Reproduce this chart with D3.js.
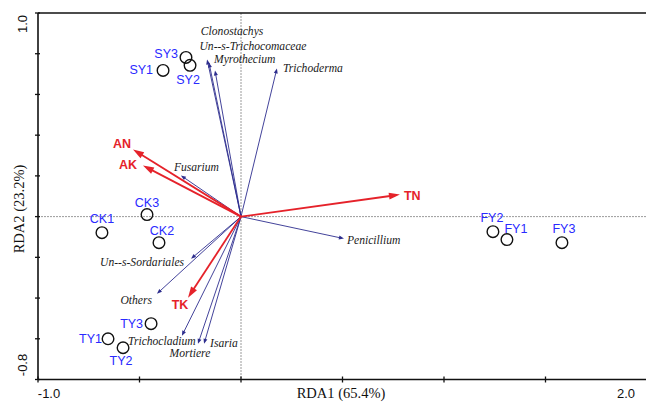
<!DOCTYPE html>
<html>
<head>
<meta charset="utf-8">
<script src="https://cdn.jsdelivr.net/npm/d3@7"></script>
<style>
  html, body { margin: 0; padding: 0; background: #fff; }
  svg { display: block; }
</style>
</head>
<body>
<svg id="chart" width="646" height="402"></svg>
<script>
// ---- Data ----
const sampleNames = ["SY1","SY2","SY3","CK1","CK2","CK3","TY1","TY2","TY3","FY1","FY2","FY3"];
const sampleX = [-0.384,-0.251,-0.271,-0.685,-0.404,-0.463,-0.655,-0.581,-0.443,1.310,1.241,1.581];
const sampleY = [0.718,0.743,0.782,-0.079,-0.128,0.010,-0.600,-0.644,-0.526,-0.113,-0.074,-0.128];

const envNames = ["AN","AK","TN","TK"];
const envX = [-0.532,-0.483,0.783,-0.261];
const envY = [0.330,0.251,0.108,-0.398];

const speciesNames = ["Clonostachys","Un--s-Trichocomaceae","Myrothecium","Trichoderma","Fusarium","Penicillium","Un--s-Sordariales","Others","Trichocladium","Mortiere","Isaria"];
const speciesX = [-0.167,-0.158,-0.128,0.177,-0.296,0.507,-0.246,-0.414,-0.291,-0.212,-0.182];
const speciesY = [0.772,0.757,0.718,0.728,0.202,-0.108,-0.207,-0.379,-0.585,-0.625,-0.625];

const xTicks = [-1.0,-0.5,0,0.5,1.0,1.5,2.0];
const yTicks = [-0.8,-0.6,-0.4,-0.2,0,0.2,0.4,0.6,0.8,1.0];
const xTickLabels = ["-1.0","2.0"];
const yTickLabels = ["1.0","-0.8"];
const xTitle = "RDA1 (65.4%)";
const yTitle = "RDA2 (23.2%)";

// ---- Layout (label offsets in px) ----
const sampleLabelLayout = {
  SY1:{a:"end",dx:-10,dy:4}, SY2:{a:"middle",dx:-2,dy:19}, SY3:{a:"end",dx:-8,dy:1},
  CK1:{a:"middle",dx:0,dy:-10}, CK2:{a:"middle",dx:3,dy:-8}, CK3:{a:"middle",dx:0,dy:-8},
  TY1:{a:"end",dx:-6,dy:4}, TY2:{a:"middle",dx:-2,dy:17}, TY3:{a:"end",dx:-8,dy:4},
  FY1:{a:"middle",dx:9,dy:-7}, FY2:{a:"middle",dx:-1,dy:-10}, FY3:{a:"middle",dx:2,dy:-10}
};
const envLabelLayout = {
  AN:{a:"end",dx:-2,dy:-1}, AK:{a:"end",dx:-6,dy:3}, TN:{a:"start",dx:4,dy:5}, TK:{a:"middle",dx:-8,dy:11}
};
const speciesLabelLayout = {
  "Clonostachys":{a:"middle",dx:25,dy:-24},
  "Un--s-Trichocomaceae":{a:"middle",dx:44,dy:-12},
  "Myrothecium":{a:"start",dx:-1,dy:-7},
  "Trichoderma":{a:"start",dx:6,dy:4},
  "Fusarium":{a:"start",dx:-7,dy:-4},
  "Penicillium":{a:"start",dx:3,dy:5},
  "Un--s-Sordariales":{a:"end",dx:-7,dy:7},
  "Others":{a:"end",dx:-5,dy:10},
  "Trichocladium":{a:"middle",dx:-20,dy:9},
  "Mortiere":{a:"middle",dx:-8,dy:13},
  "Isaria":{a:"start",dx:6,dy:3}
};

const svg = d3.select("#chart");
const x = d3.scaleLinear().domain([-1.0, 2.0]).range([38, 647]);
const y = d3.scaleLinear().domain([-0.8, 1.0]).range([379.5, 13]);

// dashed zero lines
const g0 = svg.append("g");
g0.append("line").attr("x1", x(0)).attr("x2", x(0)).attr("y1", y(1.0)).attr("y2", y(-0.8))
  .attr("stroke", "#9a9a9a").attr("stroke-width", 1).attr("stroke-dasharray", "2,1");
g0.append("line").attr("x1", x(-1)).attr("x2", x(2)).attr("y1", y(0)).attr("y2", y(0))
  .attr("stroke", "#9a9a9a").attr("stroke-width", 1).attr("stroke-dasharray", "2,1");

// frame
const frame = svg.append("g").attr("stroke", "#111").attr("stroke-width", 1.6).attr("fill", "none");
frame.append("line").attr("x1", x(-1)).attr("x2", x(2)).attr("y1", y(1.0)).attr("y2", y(1.0));
frame.append("line").attr("x1", x(-1)).attr("x2", x(-1)).attr("y1", y(1.0)).attr("y2", y(-0.8));
frame.append("line").attr("x1", x(-1)).attr("x2", x(2)).attr("y1", y(-0.8)).attr("y2", y(-0.8));

// ticks
svg.append("g").selectAll("line").data(xTicks).join("line")
  .attr("x1", d => x(d)).attr("x2", d => x(d))
  .attr("y1", y(-0.8) - 3).attr("y2", y(-0.8) + 3)
  .attr("stroke", "#111").attr("stroke-width", 1.3);
svg.append("g").selectAll("line").data(yTicks).join("line")
  .attr("y1", d => y(d)).attr("y2", d => y(d))
  .attr("x1", x(-1) - 3).attr("x2", x(-1) + 2)
  .attr("stroke", "#111").attr("stroke-width", 1.3);

// tick labels
const tickFont = "'Liberation Sans', Arial, sans-serif";
svg.append("text").text(xTickLabels[0]).attr("x", 49).attr("y", 398)
  .attr("text-anchor", "middle").attr("font-family", tickFont).attr("font-size", 13).attr("fill", "#111");
svg.append("text").text(xTickLabels[1]).attr("x", 626).attr("y", 398)
  .attr("text-anchor", "middle").attr("font-family", tickFont).attr("font-size", 13).attr("fill", "#111");
svg.append("text").text(yTickLabels[0]).attr("transform", "translate(27,24) rotate(-90)")
  .attr("text-anchor", "middle").attr("font-family", tickFont).attr("font-size", 13).attr("fill", "#111");
svg.append("text").text(yTickLabels[1]).attr("transform", "translate(27,365) rotate(-90)")
  .attr("text-anchor", "middle").attr("font-family", tickFont).attr("font-size", 13).attr("fill", "#111");

// axis titles
const serif = "'Liberation Serif', 'Times New Roman', serif";
svg.append("text").text(xTitle).attr("x", 341).attr("y", 398)
  .attr("text-anchor", "middle").attr("font-family", serif).attr("font-size", 14.5).attr("fill", "#111");
svg.append("text").text(yTitle).attr("transform", "translate(24,209) rotate(-90)")
  .attr("text-anchor", "middle").attr("font-family", serif).attr("font-size", 14.5).attr("fill", "#111");

// arrow helper
function arrow(g, x1, y1, x2, y2, color, sw, hl, hw) {
  const dx = x2 - x1, dy = y2 - y1, L = Math.hypot(dx, dy);
  const ux = dx / L, uy = dy / L;
  const bx = x2 - ux * hl, by = y2 - uy * hl;
  g.append("line").attr("x1", x1).attr("y1", y1).attr("x2", bx + ux * 1).attr("y2", by + uy * 1)
    .attr("stroke", color).attr("stroke-width", sw);
  const px = -uy * hw / 2, py = ux * hw / 2;
  g.append("polygon")
    .attr("points", `${x2},${y2} ${bx + px},${by + py} ${bx - px},${by - py}`)
    .attr("fill", color);
}

const ox = x(0), oy = y(0);

// species arrows
const navy = "#2e2e8e";
const sp = svg.append("g");
speciesNames.forEach((n, i) => {
  arrow(sp, ox, oy, x(speciesX[i]), y(speciesY[i]), navy, 0.9, 5, 4);
});
svg.append("g").selectAll("text").data(speciesNames).join("text")
  .text(d => d)
  .attr("x", (d, i) => x(speciesX[i]) + speciesLabelLayout[d].dx)
  .attr("y", (d, i) => y(speciesY[i]) + speciesLabelLayout[d].dy)
  .attr("text-anchor", d => speciesLabelLayout[d].a)
  .attr("font-family", serif).attr("font-style", "italic").attr("font-size", 11.6).attr("fill", "#1a1a1a");

// env arrows
const red = "#e5222a";
const ev = svg.append("g");
envNames.forEach((n, i) => {
  arrow(ev, ox, oy, x(envX[i]), y(envY[i]), red, 1.8, 11, 7);
});
svg.append("g").selectAll("text").data(envNames).join("text")
  .text(d => d)
  .attr("x", (d, i) => x(envX[i]) + envLabelLayout[d].dx)
  .attr("y", (d, i) => y(envY[i]) + envLabelLayout[d].dy)
  .attr("text-anchor", d => envLabelLayout[d].a)
  .attr("font-family", tickFont).attr("font-weight", "bold").attr("font-size", 12.5).attr("fill", red);

// samples
svg.append("g").selectAll("circle").data(sampleNames).join("circle")
  .attr("cx", (d, i) => x(sampleX[i])).attr("cy", (d, i) => y(sampleY[i])).attr("r", 5.8)
  .attr("fill", "none").attr("stroke", "#111").attr("stroke-width", 1.4);
svg.append("g").selectAll("text").data(sampleNames).join("text")
  .text(d => d)
  .attr("x", (d, i) => x(sampleX[i]) + sampleLabelLayout[d].dx)
  .attr("y", (d, i) => y(sampleY[i]) + sampleLabelLayout[d].dy)
  .attr("text-anchor", d => sampleLabelLayout[d].a)
  .attr("font-family", tickFont).attr("font-size", 12.5).attr("fill", "#2a2aff");
</script>
</body>
</html>
